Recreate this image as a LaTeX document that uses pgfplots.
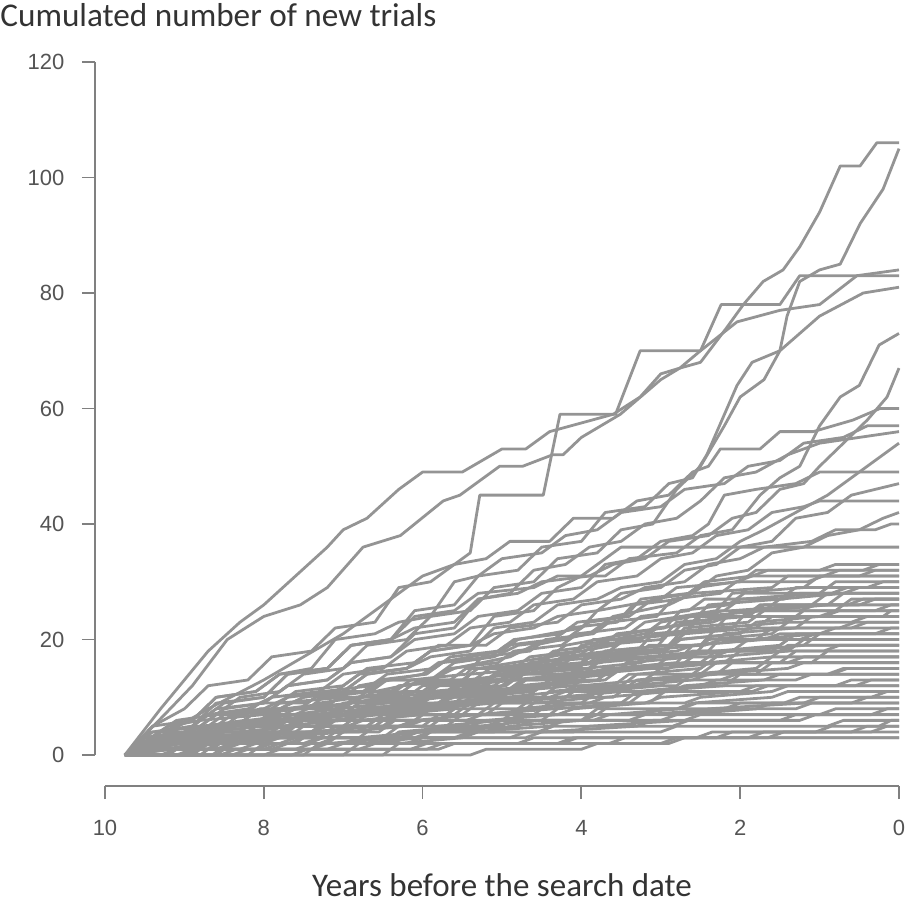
\documentclass[border=0pt]{standalone}
\usepackage{fontspec}
\setmainfont{Carlito}
\newfontfamily\tickfont{Liberation Sans}
\usepackage{pgfplots}
\pgfplotsset{compat=1.18}
\definecolor{linegray}{gray}{0.58}
\definecolor{axisgray}{gray}{0.5}
\definecolor{txt}{gray}{0.2}
\definecolor{ticktxt}{gray}{0.33}
\begin{document}
\begin{tikzpicture}
\begin{axis}[
 scale only axis, width=402pt, height=362pt,
 x dir=reverse, xmin=0, xmax=10.126, ymin=-5.36, ymax=120,
 axis x line*=bottom, axis y line*=left,
 axis line style={draw=none},
 xtick={0,2,4,6,8,10}, ytick={0,20,40,60,80,100,120},
 tick align=outside, major tick length=6.5pt,
 tick style={axisgray, line width=0.9pt},
 /pgf/number format/assume math mode=true,
 tick label style={font=\tickfont\fontsize{11}{12}\selectfont, text=ticktxt},
 xticklabel style={yshift=-7pt},
 yticklabel style={xshift=-5.3pt},
 clip=false,
 tr/.style={linegray, line width=1.4pt, line join=round, no marks},
]
\draw[axisgray, line width=0.9pt] (axis cs:10,-5.36) -- (axis cs:0,-5.36);
\draw[axisgray, line width=0.9pt] (axis cs:10.126,0) -- (axis cs:10.126,120);
% ---- lower dense group
\addplot[tr] coordinates {(9.75,0)(9.5,3)(9.0,4)(8.8,6)(8.0,7)(7.8,9)(7.0,10)(6.8,12)(6.0,14)(5.8,16)(5.0,18)(4.8,20)(4.0,22)(3.8,25)(3.0,27)(2.8,29)(2.0,30)(1.8,32)(1.0,32)(0.8,33)(0,33)};
\addplot[tr] coordinates {(9.75,0)(9.4,2)(8.9,2)(8.7,5)(7.9,6)(7.6,8)(6.9,9)(6.6,11)(5.9,13)(5.6,15)(4.9,17)(4.6,19)(3.9,21)(3.6,24)(2.9,26)(2.6,28)(1.6,29)(1.4,31)(0.5,31)(0.3,32)(0,32)};
\addplot[tr] coordinates {(9.75,0)(9.3,3)(8.6,3)(8.4,5)(7.5,6)(7.3,8)(6.5,10)(6.3,12)(5.5,13)(5.3,15)(4.4,17)(4.2,19)(3.4,21)(3.2,23)(2.3,25)(2.1,28)(1.2,29)(1.0,31)(0,31)};
\addplot[tr] coordinates {(9.75,0)(9.6,1)(9.0,2)(8.8,4)(8.2,4)(8.0,6)(7.2,7)(7.0,9)(6.2,10)(6.0,12)(5.2,13)(5.0,15)(4.2,16)(4.0,19)(3.2,21)(3.0,23)(2.2,25)(2.0,27)(1.0,28)(0.8,30)(0,30)};
\addplot[tr] coordinates {(9.75,0)(9.2,2)(8.5,2)(8.3,4)(7.6,5)(7.4,7)(6.7,8)(6.5,10)(5.6,11)(5.4,14)(4.6,15)(4.4,17)(3.6,19)(3.4,21)(2.6,23)(2.4,26)(1.5,27)(1.3,29)(0.4,29)(0.2,30)(0,30)};
\addplot[tr] coordinates {(9.75,0)(9.5,2)(8.7,2)(8.5,4)(7.8,4)(7.6,6)(6.8,7)(6.6,9)(5.8,10)(5.6,12)(4.8,13)(4.6,16)(3.7,17)(3.5,20)(2.7,21)(2.5,24)(1.7,25)(1.5,27)(0.7,28)(0.5,29)(0,29)};
\addplot[tr] coordinates {(9.75,0)(9.1,2)(8.3,3)(8.1,5)(7.3,5)(7.1,7)(6.3,8)(6.1,10)(5.3,11)(5.1,13)(4.3,15)(4.1,17)(3.3,18)(3.1,21)(2.3,22)(2.1,25)(1.1,26)(0.9,28)(0,28)};
\addplot[tr] coordinates {(9.75,0)(9.5,1)(8.9,1)(8.7,3)(8.0,3)(7.8,5)(7.0,6)(6.8,8)(6.0,9)(5.8,11)(5.0,12)(4.8,14)(3.9,15)(3.7,18)(2.9,19)(2.7,22)(1.9,23)(1.7,25)(0.9,26)(0.7,28)(0,28)};
\addplot[tr] coordinates {(9.75,0)(9.4,3)(8.4,3)(8.2,5)(7.2,5)(7.0,7)(6.1,8)(5.9,10)(5.1,11)(4.9,13)(4.1,14)(3.9,17)(3.1,18)(2.9,21)(2.1,22)(1.9,25)(0.8,25)(0.6,27)(0,27)};
\addplot[tr] coordinates {(9.75,0)(9.3,1)(8.7,2)(8.5,3)(7.7,4)(7.5,6)(6.6,6)(6.4,8)(5.6,9)(5.4,11)(4.5,12)(4.3,14)(3.5,15)(3.3,18)(2.5,19)(2.3,22)(1.4,23)(1.2,25)(0.3,25)(0.1,26)(0,26)};
\addplot[tr] coordinates {(9.75,0)(9.0,0)(8.8,2)(8.0,2)(7.8,4)(7.0,4)(6.8,6)(6.0,7)(5.8,9)(5.0,10)(4.8,12)(4.0,13)(3.8,16)(3.0,17)(2.8,20)(2.0,21)(1.8,23)(1.0,24)(0.8,25)(0,25)};
\addplot[tr] coordinates {(9.75,0)(9.5,2)(8.6,2)(8.4,3)(7.4,4)(7.2,6)(6.4,6)(6.2,8)(5.4,9)(5.2,11)(4.4,12)(4.2,14)(3.4,15)(3.2,17)(2.4,18)(2.2,21)(1.3,22)(1.1,24)(0.2,24)(0.1,25)(0,25)};
\addplot[tr] coordinates {(9.75,0)(8.6,0)(8.4,2)(7.6,2)(7.4,4)(6.6,5)(6.4,7)(5.6,8)(5.4,10)(4.6,11)(4.4,13)(3.6,14)(3.4,16)(2.6,17)(2.4,20)(1.6,21)(1.4,23)(0.6,23)(0.4,24)(0,24)};
\addplot[tr] coordinates {(9.75,0)(9.4,1)(8.8,1)(8.6,3)(7.9,3)(7.7,5)(6.9,5)(6.7,7)(5.9,8)(5.7,10)(4.7,10)(4.5,12)(3.8,13)(3.6,15)(2.8,16)(2.6,19)(1.8,20)(1.6,22)(0.6,22)(0.4,23)(0,23)};
\addplot[tr] coordinates {(9.75,0)(9.2,0)(9.0,2)(8.1,2)(7.9,3)(7.1,4)(6.9,6)(6.1,6)(5.9,8)(5.1,9)(4.9,11)(4.1,12)(3.9,14)(3.1,15)(2.9,17)(2.1,18)(1.9,20)(1.0,21)(0.8,22)(0,22)};
\addplot[tr] coordinates {(9.75,0)(9.6,2)(8.8,2)(8.6,3)(7.7,3)(7.5,5)(6.7,5)(6.5,7)(5.7,7)(5.5,9)(4.7,10)(4.5,12)(3.7,13)(3.5,15)(2.5,16)(2.3,18)(1.5,19)(1.3,21)(0.3,21)(0.1,22)(0,22)};
\addplot[tr] coordinates {(9.75,0)(8.2,0)(8.0,2)(7.2,2)(7.0,4)(6.2,5)(6.0,7)(5.2,7)(5.0,9)(4.2,10)(4.0,12)(3.2,13)(3.0,15)(2.2,16)(2.0,18)(1.2,19)(1.0,21)(0,21)};
\addplot[tr] coordinates {(9.75,0)(9.3,2)(8.5,2)(8.3,3)(7.5,3)(7.3,5)(6.5,5)(6.3,7)(5.5,7)(5.3,9)(4.5,10)(4.3,12)(3.5,12)(3.3,14)(2.5,15)(2.3,17)(1.4,18)(1.2,20)(0,20)};
\addplot[tr] coordinates {(9.75,0)(9.5,1)(8.7,1)(8.5,3)(7.6,3)(7.4,4)(6.6,5)(6.4,7)(5.6,7)(5.4,9)(4.6,9)(4.4,11)(3.6,12)(3.4,14)(2.6,14)(2.4,16)(1.6,17)(1.4,19)(0,19)};
\addplot[tr] coordinates {(9.75,0)(9.1,2)(8.3,2)(8.1,3)(7.3,3)(7.1,5)(6.3,5)(6.1,6)(5.3,7)(5.1,9)(4.3,9)(4.1,11)(3.3,12)(3.1,13)(2.3,14)(2.1,16)(1.1,16)(0.9,18)(0,18)};
\addplot[tr] coordinates {(9.75,0)(7.5,0)(7.3,2)(6.5,2)(6.3,4)(5.5,5)(5.3,7)(4.5,8)(4.3,10)(3.5,11)(3.3,13)(2.5,14)(2.3,16)(1.5,16)(1.3,18)(0,18)};
\addplot[tr] coordinates {(9.75,0)(9.4,2)(8.4,2)(8.2,3)(7.2,3)(7.0,5)(6.0,5)(5.8,7)(4.8,7)(4.6,9)(3.8,10)(3.6,12)(2.8,12)(2.6,14)(1.8,15)(1.6,17)(0,17)};
\addplot[tr] coordinates {(9.75,0)(9.2,1)(8.6,1)(8.4,2)(7.8,3)(7.6,4)(6.8,4)(6.6,6)(5.8,6)(5.6,8)(4.8,8)(4.6,10)(3.6,10)(3.4,12)(2.6,13)(2.4,14)(1.4,15)(1.2,16)(0,16)};
\addplot[tr] coordinates {(9.75,0)(8.8,0)(8.6,2)(7.8,2)(7.6,3)(6.8,3)(6.6,5)(5.7,5)(5.5,7)(4.6,7)(4.4,9)(3.4,9)(3.2,11)(2.2,12)(2.0,14)(0.9,14)(0.7,15)(0,15)};
\addplot[tr] coordinates {(9.75,0)(9.5,1)(8.9,1)(8.7,2)(8.0,2)(7.8,3)(7.0,4)(6.8,5)(5.9,5)(5.7,7)(4.9,7)(4.7,8)(3.9,9)(3.7,10)(2.9,11)(2.7,12)(1.7,13)(1.5,14)(0,14)};
\addplot[tr] coordinates {(9.75,0)(6.5,0)(6.3,2)(5.5,3)(5.3,5)(4.5,6)(4.3,8)(3.5,9)(3.3,11)(2.5,12)(2.3,13)(1.3,13)(1.1,14)(0,14)};
\addplot[tr] coordinates {(9.75,0)(9.3,1)(8.6,1)(8.4,2)(7.5,2)(7.3,3)(6.5,3)(6.3,5)(5.4,5)(5.2,6)(4.3,7)(4.1,8)(3.2,9)(3.0,10)(2.0,11)(1.8,12)(0.8,12)(0.6,13)(0,13)};
\addplot[tr] coordinates {(9.75,0)(9.1,0)(8.9,1)(8.1,1)(7.9,2)(7.0,2)(6.8,3)(6.0,4)(5.8,5)(5.0,5)(4.8,7)(3.8,7)(3.6,9)(2.7,9)(2.5,10)(1.6,11)(1.4,12)(0,12)};
\addplot[tr] coordinates {(9.75,0)(9.6,1)(8.9,1)(8.7,2)(7.7,2)(7.5,3)(6.4,3)(6.2,4)(5.2,5)(5.0,6)(4.0,6)(3.8,8)(2.8,8)(2.6,9)(1.6,10)(1.4,11)(0,11)};
\addplot[tr] coordinates {(9.75,0)(8.4,0)(8.2,1)(7.4,1)(7.2,2)(6.3,3)(6.1,4)(5.1,4)(4.9,5)(4.0,6)(3.8,7)(2.6,7)(2.4,8)(1.2,9)(1.0,10)(0,10)};
\addplot[tr] coordinates {(9.75,0)(9.4,1)(8.5,1)(8.3,2)(7.3,2)(7.1,3)(6.1,3)(5.9,4)(4.8,5)(4.6,6)(3.4,6)(3.2,7)(2.2,8)(2.0,9)(0.6,9)(0.4,10)(0,10)};
\addplot[tr] coordinates {(9.75,0)(9.3,0)(9.1,1)(8.0,1)(7.8,2)(6.9,2)(6.7,3)(5.6,3)(5.4,4)(4.4,5)(4.2,6)(3.0,6)(2.8,7)(1.8,8)(1.6,9)(0,9)};
\addplot[tr] coordinates {(9.75,0)(9.5,1)(8.3,1)(8.1,2)(7.0,2)(6.8,3)(5.5,3)(5.3,4)(4.1,4)(3.9,5)(2.7,6)(2.5,7)(1.0,7)(0.8,8)(0,8)};
\addplot[tr] coordinates {(9.75,0)(9.0,0)(8.8,1)(7.6,1)(7.4,2)(6.2,2)(6.0,3)(4.7,3)(4.5,4)(3.3,5)(3.1,6)(1.5,6)(1.3,7)(0,7)};
\addplot[tr] coordinates {(9.75,0)(9.3,1)(7.9,1)(7.7,2)(6.4,2)(6.2,3)(4.9,3)(4.7,4)(3.0,4)(2.8,5)(0.9,5)(0.7,6)(0,6)};
\addplot[tr] coordinates {(9.75,0)(5.4,0)(5.2,1)(4.0,1)(3.8,2)(2.9,2)(2.7,3)(1.9,3)(1.7,4)(0.6,4)(0.4,5)(0,5)};
\addplot[tr] coordinates {(9.75,0)(9.2,1)(7.2,1)(7.0,2)(4.8,2)(4.6,3)(2.3,3)(2.1,4)(0,4)};
\addplot[tr] coordinates {(9.75,0)(8.0,0)(7.8,1)(5.8,1)(5.6,2)(3.0,2)(2.8,3)(0,3)};
\addplot[tr] coordinates {(9.75,0)(9.4,1)(6.8,1)(6.6,2)(4.3,2)(4.1,3)(0,3)};
\addplot[tr] coordinates {(9.75,0)(9.5,2)(8.9,3)(8.7,5)(8.1,5)(7.9,7)(7.1,7)(6.9,9)(6.1,9)(5.9,11)(5.1,12)(4.9,14)(3.9,15)(3.7,17)(2.8,18)(2.6,19)(1.7,20)(1.5,21)(0,21)};
\addplot[tr] coordinates {(9.75,0)(9.4,2)(8.9,2)(8.7,4)(8.0,5)(7.8,6)(7.0,7)(6.8,9)(6.0,10)(5.8,12)(5.0,13)(4.8,15)(3.9,15)(3.7,17)(2.8,17)(2.6,18)(1.5,18)(1.3,19)(0,19)};
\addplot[tr] coordinates {(9.75,0)(9.3,2)(8.7,3)(8.5,4)(7.9,4)(7.7,6)(7.0,7)(6.8,8)(6.0,9)(5.8,11)(4.9,11)(4.7,13)(3.9,14)(3.7,15)(2.9,15)(2.7,16)(1.4,16)(1.2,17)(0,17)};
\addplot[tr] coordinates {(9.75,0)(7.0,0)(6.8,2)(6.0,3)(5.8,5)(5.0,6)(4.8,8)(4.0,9)(3.8,11)(3.0,12)(2.8,14)(1.8,14)(1.6,16)(0,16)};
\addplot[tr] coordinates {(9.75,0)(9.5,2)(8.8,2)(8.6,4)(7.8,4)(7.6,6)(6.8,7)(6.6,8)(5.8,9)(5.6,10)(4.4,10)(4.2,11)(2.8,11)(2.6,12)(0,12)};
\addplot[tr] coordinates {(9.75,0)(9.4,2)(8.6,2)(8.4,3)(7.4,4)(7.2,5)(6.2,5)(6.0,6)(4.9,6)(4.7,7)(3.2,7)(3.0,8)(1.3,8)(1.1,9)(0,9)};
\addplot[tr] coordinates {(9.75,0)(9.0,0)(8.8,3)(8.0,4)(7.8,6)(7.0,7)(6.8,9)(6.0,10)(5.8,12)(5.0,13)(4.8,15)(4.0,16)(3.8,19)(3.0,20)(2.8,23)(1.9,24)(1.7,26)(0.5,26)(0.3,27)(0,27)};
\addplot[tr] coordinates {(9.75,0)(9.5,3)(9.0,3)(8.8,5)(8.0,6)(7.8,8)(7.0,8)(6.8,10)(6.0,11)(5.8,13)(5.0,13)(4.8,15)(3.9,16)(3.7,18)(2.9,19)(2.7,21)(1.8,22)(1.6,24)(0,24)};
\addplot[tr] coordinates {(9.75,0)(8.9,0)(8.7,2)(7.9,3)(7.7,5)(6.9,5)(6.7,7)(5.9,8)(5.7,10)(4.9,11)(4.7,13)(3.8,13)(3.6,15)(2.7,16)(2.5,18)(1.6,18)(1.4,20)(0,20)};
% ---- further lower lines
\addplot[tr] coordinates {(9.75,0)(9.45,4)(8.95,4)(8.75,7)(8.25,7)(8.05,9)(7.45,9)(7.25,11)(6.65,12)(6.45,14)(5.85,15)(5.65,17)(5.05,18)(4.85,20)(4.25,21)(4.05,23)(3.45,24)(3.25,27)(2.65,28)(2.45,30)(1.85,31)(1.65,32)(0.45,32)(0.25,33)(0,33)};
\addplot[tr] coordinates {(9.75,0)(9.55,2)(9.05,3)(8.85,5)(8.35,5)(8.15,7)(7.55,8)(7.35,10)(6.75,11)(6.55,13)(5.95,14)(5.75,16)(5.15,17)(4.95,19)(4.35,20)(4.15,22)(3.55,23)(3.35,26)(2.75,27)(2.55,29)(2.05,30)(1.85,31)(0.95,31)(0.75,32)(0,32)};
\addplot[tr] coordinates {(9.75,0)(9.35,3)(8.75,3)(8.55,5)(7.95,6)(7.75,8)(7.15,9)(6.95,11)(6.35,11)(6.15,13)(5.45,14)(5.25,17)(4.65,18)(4.45,20)(3.85,21)(3.65,23)(3.05,24)(2.85,27)(2.25,28)(2.05,30)(1.15,30)(0.95,31)(0,31)};
\addplot[tr] coordinates {(9.75,0)(9.25,2)(8.65,3)(8.45,5)(7.85,5)(7.65,7)(7.05,8)(6.85,10)(6.25,11)(6.05,13)(5.35,13)(5.15,15)(4.55,16)(4.35,18)(3.75,19)(3.55,21)(2.95,22)(2.75,25)(2.15,26)(1.95,28)(0.85,28)(0.65,29)(0,29)};
\addplot[tr] coordinates {(9.75,0)(9.05,2)(8.45,2)(8.25,4)(7.65,5)(7.45,7)(6.85,7)(6.65,9)(6.05,10)(5.85,12)(5.25,12)(5.05,14)(4.45,15)(4.25,17)(3.65,18)(3.45,20)(2.85,21)(2.65,24)(1.95,24)(1.75,26)(0.65,26)(0.45,27)(0,27)};
\addplot[tr] coordinates {(9.75,0)(9.45,2)(8.85,2)(8.65,4)(8.05,4)(7.85,6)(7.25,6)(7.05,8)(6.45,9)(6.25,11)(5.65,11)(5.45,13)(4.85,14)(4.65,16)(4.05,17)(3.85,19)(3.25,20)(3.05,22)(2.45,23)(2.25,25)(1.25,25)(1.05,26)(0,26)};
\addplot[tr] coordinates {(9.75,0)(9.15,1)(8.55,2)(8.35,4)(7.75,4)(7.55,6)(6.95,6)(6.75,8)(6.15,8)(5.95,10)(5.35,11)(5.15,13)(4.55,13)(4.35,15)(3.75,16)(3.55,18)(2.95,18)(2.75,20)(2.05,21)(1.85,22)(0.75,22)(0.55,23)(0,23)};
\addplot[tr] coordinates {(9.75,0)(9.55,2)(8.95,2)(8.75,3)(8.15,3)(7.95,5)(7.35,5)(7.15,7)(6.55,7)(6.35,9)(5.75,10)(5.55,11)(4.95,12)(4.75,14)(4.15,14)(3.95,16)(3.35,17)(3.15,19)(2.45,19)(2.25,20)(1.25,20)(1.05,21)(0,21)};
\addplot[tr] coordinates {(9.75,0)(8.95,0)(8.75,2)(8.15,2)(7.95,4)(7.35,4)(7.15,6)(6.55,7)(6.35,9)(5.75,9)(5.55,11)(4.95,11)(4.75,13)(4.15,14)(3.95,15)(3.25,16)(3.05,17)(2.35,17)(2.15,18)(0.95,18)(0.75,19)(0,19)};
\addplot[tr] coordinates {(9.75,0)(9.35,2)(8.75,2)(8.55,3)(7.85,3)(7.65,5)(6.95,5)(6.75,6)(6.05,7)(5.85,9)(5.15,9)(4.95,10)(4.25,11)(4.05,12)(3.35,12)(3.15,13)(2.25,13)(2.05,14)(0.85,14)(0.65,15)(0,15)};
\addplot[tr] coordinates {(9.75,0)(9.65,1)(8.65,1)(8.45,3)(7.65,3)(7.45,4)(6.55,4)(6.35,6)(5.45,6)(5.25,7)(4.35,8)(4.15,9)(3.15,9)(2.95,11)(1.85,11)(1.65,12)(0.55,12)(0.35,13)(0,13)};
\addplot[tr] coordinates {(9.75,0)(8.65,0)(8.45,2)(7.45,2)(7.25,3)(6.25,3)(6.05,4)(5.05,5)(4.85,6)(3.85,6)(3.65,7)(2.75,8)(2.55,9)(1.45,9)(1.25,10)(0.35,10)(0.15,11)(0,11)};
\addplot[tr] coordinates {(9.75,0)(9.55,2)(8.15,2)(7.95,3)(6.45,3)(6.25,4)(4.55,4)(4.35,5)(2.85,5)(2.65,6)(1.25,6)(1.05,7)(0.35,7)(0.15,8)(0,8)};
\addplot[tr] coordinates {(9.75,0)(7.65,0)(7.45,1)(5.95,1)(5.75,2)(4.25,2)(4.05,3)(2.55,3)(2.35,4)(1.05,4)(0.85,5)(0.25,5)(0.1,6)(0,6)};
\addplot[tr] coordinates {(9.75,0)(9.25,3)(8.85,3)(8.65,5)(8.05,6)(7.85,8)(7.25,8)(7.05,10)(6.45,10)(6.25,12)(5.65,13)(5.45,15)(4.85,15)(4.65,17)(4.05,18)(3.85,20)(3.25,20)(3.05,22)(2.35,23)(2.15,24)(0.95,24)(0.75,25)(0,25)};
\addplot[tr] coordinates {(9.75,0)(9.35,2)(8.95,3)(8.75,5)(8.25,6)(8.05,8)(7.45,8)(7.25,10)(6.65,11)(6.45,13)(5.85,13)(5.65,15)(5.05,16)(4.85,18)(4.25,19)(4.05,21)(3.45,22)(3.25,24)(2.65,25)(2.45,27)(1.45,27)(1.25,28)(0,28)};
\addplot[tr] coordinates {(9.75,0)(8.55,0)(8.35,1)(6.15,1)(5.95,2)(3.65,2)(3.45,3)(1.65,3)(1.45,4)(0.35,4)(0.15,5)(0,5)};
% ---- middle group
\addplot[tr] coordinates {(9.75,0)(9.4,5)(8.9,6)(8.6,10)(8.1,11)(7.8,14)(7.2,15)(6.9,19)(6.4,20)(6.1,24)(5.6,25)(5.3,28)(4.6,29)(4.3,31)(3.7,31)(3.4,34)(2.8,35)(2.5,38)(2.1,39)(1.75,45)(1.5,48)(1.25,50)(1.0,57)(0.74,62)(0.5,64)(0.25,71)(0,73)};
\addplot[tr] coordinates {(9.75,0)(9.3,4)(8.9,5)(8.6,9)(8.0,10)(7.7,14)(7.2,15)(6.9,19)(6.4,20)(6.1,22)(5.6,23)(5.3,27)(4.8,28)(4.5,30)(3.9,31)(3.6,33)(3.2,34)(2.9,37)(2.4,38)(2.1,41)(1.8,42)(1.5,46)(1.2,47)(1.0,50)(0.7,54)(0.4,58)(0.15,62)(0,67)};
\addplot[tr] coordinates {(9.75,0)(9.4,5)(9.0,8)(8.7,12)(8.2,13)(7.9,17)(7.4,18)(7.1,22)(6.6,23)(6.3,29)(5.9,30)(5.6,33)(5.2,34)(4.9,37)(4.4,37)(4.1,41)(3.6,41)(3.3,44)(2.9,45)(2.6,49)(2.4,50)(2.25,53)(1.75,53)(1.5,56)(1.08,56)(0.58,58)(0.24,60)(0,60)};
\addplot[tr] coordinates {(9.75,0)(9.3,4)(8.9,6)(8.6,10)(8.1,11)(7.8,14)(7.4,15)(7.1,20)(6.6,21)(6.3,23)(5.9,24)(5.6,30)(5.3,31)(5.0,34)(4.5,35)(4.2,38)(3.8,39)(3.5,42)(3.0,43)(2.7,46)(2.2,47)(1.9,50)(1.5,51)(1.2,54)(0.7,55)(0.4,57)(0,57)};
\addplot[tr] coordinates {(9.75,0)(9.4,4)(8.9,5)(8.6,8)(8.0,9)(7.7,12)(7.2,13)(6.9,16)(6.4,17)(6.1,21)(5.6,22)(5.3,27)(4.9,28)(4.6,32)(4.2,33)(3.9,36)(3.5,37)(3.2,40)(2.8,41)(2.5,44)(2.2,48)(1.8,49)(1.4,52)(1.0,54)(0.5,55)(0,56)};
\addplot[tr] coordinates {(9.75,0)(9.2,3)(8.7,4)(8.4,7)(7.8,8)(7.5,10)(7.0,11)(6.7,14)(6.2,15)(5.9,17)(5.4,18)(5.1,22)(4.6,23)(4.3,26)(3.8,27)(3.5,29)(3.0,30)(2.7,33)(2.3,34)(2.0,37)(1.7,39)(1.3,42)(0.9,45)(0.5,49)(0.2,52)(0,54)};
\addplot[tr] coordinates {(9.75,0)(9.3,4)(8.8,5)(8.5,8)(8.0,9)(7.7,12)(7.2,13)(6.9,16)(6.4,17)(6.1,20)(5.6,21)(5.3,24)(4.8,25)(4.5,28)(4.0,29)(3.7,33)(3.3,34)(3.0,37)(2.6,38)(2.4,40)(2.2,45)(1.8,46)(1.3,47)(1.0,49)(0,49)};
\addplot[tr] coordinates {(9.75,0)(9.1,3)(8.6,4)(8.3,7)(7.8,8)(7.5,10)(7.0,11)(6.7,14)(6.2,15)(5.9,18)(5.4,19)(5.1,21)(4.6,22)(4.3,24)(3.8,25)(3.5,28)(3.0,29)(2.7,32)(2.3,33)(2.0,36)(1.6,37)(1.3,41)(0.9,42)(0.6,45)(0.3,46)(0,47)};
\addplot[tr] coordinates {(9.75,0)(9.5,3)(9.0,4)(8.7,7)(8.2,8)(7.9,10)(7.3,11)(7.0,14)(6.5,15)(6.2,18)(5.7,19)(5.4,22)(4.9,23)(4.6,26)(4.1,27)(3.8,30)(3.3,31)(3.0,34)(2.6,35)(2.3,38)(1.9,39)(1.6,42)(1.2,43)(1.0,44)(0,44)};
\addplot[tr] coordinates {(9.75,0)(9.0,3)(8.5,4)(8.2,6)(7.6,7)(7.3,9)(6.8,10)(6.5,13)(5.9,13)(5.6,16)(5.1,17)(4.8,19)(4.2,20)(3.9,23)(3.4,24)(3.1,27)(2.6,28)(2.3,31)(1.9,32)(1.6,35)(1.2,36)(0.9,38)(0.5,39)(0.2,41)(0,42)};
\addplot[tr] coordinates {(9.75,0)(9.3,3)(8.8,4)(8.5,7)(7.9,8)(7.6,11)(7.0,12)(6.7,15)(6.1,16)(5.8,19)(5.2,19)(4.9,22)(4.3,23)(4.0,26)(3.5,27)(3.2,29)(2.7,30)(2.4,33)(2.0,34)(1.7,36)(1.1,37)(0.8,39)(0.3,39)(0.1,40)(0,40)};
\addplot[tr] coordinates {(9.75,0)(9.4,3)(8.9,4)(8.6,7)(8.0,8)(7.7,10)(7.1,11)(6.8,14)(6.2,15)(5.9,18)(5.4,19)(5.1,24)(4.6,25)(4.3,29)(4.0,31)(3.7,34)(3.5,36)(0,36)};
% ---- upper group
\addplot[tr] coordinates {(9.75,0)(9.3,8)(9.0,13)(8.7,18)(8.3,23)(8.0,26)(7.6,31)(7.2,36)(7.0,39)(6.7,41)(6.3,46)(6.0,49)(5.5,49)(5.0,53)(4.7,53)(4.4,56)(3.6,59)(3.26,62)(3.0,66)(2.76,67)(2.5,68)(2.17,74)(1.96,78)(1.71,82)(1.46,84)(1.25,88)(1.0,94)(0.74,102)(0.49,102)(0.28,106)(0,106)};
\addplot[tr] coordinates {(9.75,0)(9.25,7)(8.9,12)(8.46,20)(8.0,24)(7.54,26)(7.2,29)(6.75,36)(6.28,38)(5.74,44)(5.53,45)(5.03,50)(4.74,50)(4.36,52)(4.23,52)(4.0,55)(3.51,59)(3.17,63)(3.0,65)(2.76,67)(2.5,70)(2.04,75)(1.5,77)(1.0,78)(0.53,83)(0,84)};
\addplot[tr] coordinates {(9.75,0)(9.2,5)(8.8,6)(8.5,9)(8.0,10)(7.7,14)(7.2,15)(6.9,19)(6.4,20)(6.1,25)(5.6,26)(5.3,31)(4.8,32)(4.5,36)(4.0,37)(3.7,42)(3.2,43)(2.9,47)(2.6,48)(2.42,52)(2.04,64)(1.85,68)(1.5,70)(1.41,76)(1.25,82)(1.0,84)(0.74,85)(0.49,92)(0.2,98)(0,105)};
\addplot[tr] coordinates {(9.75,0)(9.2,4)(8.7,8)(8.0,13)(7.5,17)(7.0,21)(6.5,26)(6.0,31)(5.6,33)(5.4,35)(5.28,45)(4.48,45)(4.27,59)(3.57,59)(3.26,70)(2.5,70)(2.24,78)(1.5,78)(1.25,83)(0,83)};
\addplot[tr] coordinates {(9.75,0)(9.1,6)(8.6,7)(8.3,10)(7.8,11)(7.5,14)(7.0,15)(6.7,19)(6.2,20)(5.9,24)(5.4,25)(5.1,29)(4.6,30)(4.3,34)(3.8,35)(3.5,39)(3.1,40)(2.8,46)(2.5,50)(2.2,57)(2.0,62)(1.7,65)(1.5,70)(1.0,76)(0.45,80)(0,81)};
\end{axis}
\node[anchor=base west, text=txt, font=\fontsize{16.6}{19}\selectfont, inner sep=0pt] at ([xshift=-47.5pt,yshift=17.5pt]current axis.north west) {Cumulated number of new trials};
\node[anchor=base, text=txt, font=\fontsize{16.5}{19}\selectfont, inner sep=0pt] at ([xshift=2.5pt,yshift=-55pt]current axis.south) {Years before the search date};
\pgfresetboundingbox
\path ([xshift=-47.5pt,yshift=-58.5pt]current axis.south west) rectangle ([xshift=4.5pt,yshift=31pt]current axis.north east);
\end{tikzpicture}
\end{document}
